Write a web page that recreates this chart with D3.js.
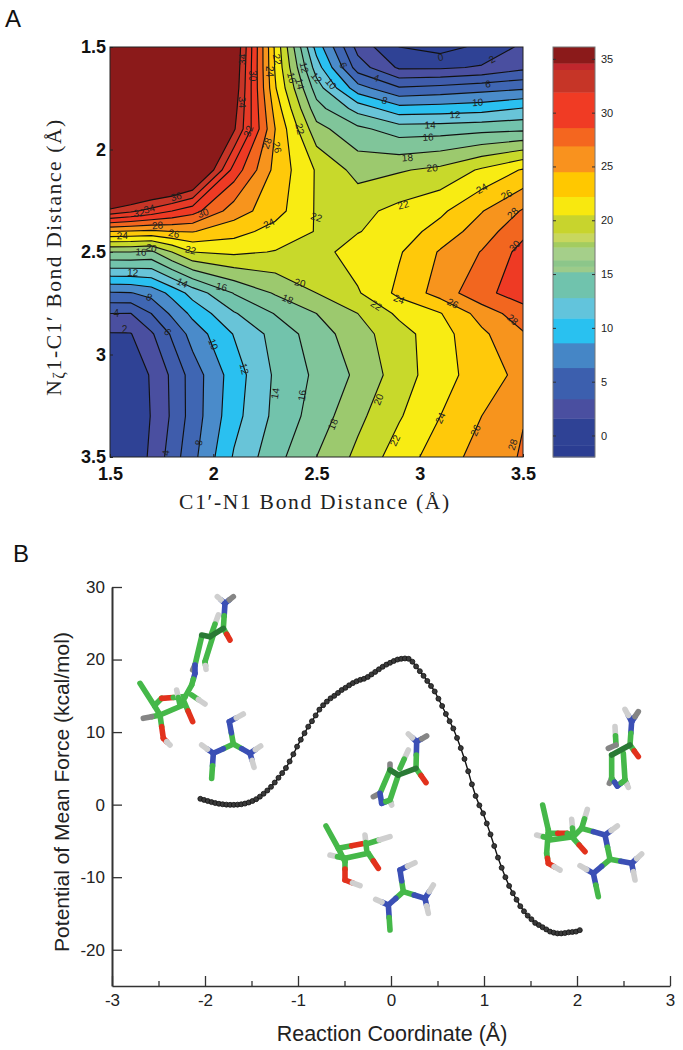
<!DOCTYPE html>
<html><head><meta charset="utf-8">
<script src="https://cdn.jsdelivr.net/npm/d3@7"></script>
<style>html,body{margin:0;padding:0;background:#fff}svg{display:block}</style>
</head><body>
<svg id="c" width="683" height="1050"></svg>
<script>
// ---------- Panel A data ----------
const bondN1 = [1.5,1.6,1.7,1.8,1.9,2.1,2.3,2.5,2.7,2.9,3.1,3.3,3.5];
const bondNz = [1.5,1.6,1.7,1.8,1.9,2.1,2.3,2.4,2.5,2.7,2.8,2.9,3.1,3.3,3.5];
const pmfRow150 = [60,60,60,60,60,38.4,23.6,11.2,3.3,0,-0.8,0.5,2.4];
const pmfRow160 = [60,60,60,60,60,38,23.8,13,5,1.7,1.7,2.2,3.5];
const pmfRow170 = [60,60,60,60,60,37.6,24.2,15,8.8,6.2,6.6,7.2,7.7];
const pmfRow180 = [60,60,60,60,60,36.9,25.2,16.8,13.2,10.7,10.9,11.2,12.1];
const pmfRow190 = [60,60,60,60,60,36.3,26,18.7,16.5,15,15.1,15.4,15.6];
const pmfRow210 = [47.7,45,43.3,43,41,31.2,25.4,21.8,19.3,19.8,20.5,22.3,24.2];
const pmfRow230 = [35.4,34.4,33.3,32,30.8,27,24.8,21.8,21.4,22.6,23.6,25.9,28.2];
const pmfRow240 = [26,25.8,25.6,26,26.1,24.8,23.2,21.9,21.9,23,24.8,27,29.5];
const pmfRow250 = [18,18,17.6,20,22,22.4,21.9,21.2,23,23.8,26.2,28.1,30.7];
const pmfRow270 = [7.8,7.9,8.7,10.6,12.8,16.1,18.2,20,21.8,24.5,26.8,29.5,30.9];
const pmfRow280 = [4,3.95,6,8.4,10.5,13.8,16.1,18,20,22.4,23.9,26.8,29.2];
const pmfRow290 = [1.85,1.9,3.7,6.3,8.8,12.1,14.7,17,19.2,21.2,23.2,25.6,27.8];
const pmfRow310 = [1,1.3,2.1,4.4,6.9,11,14.3,16.4,18.4,21,23.2,25,26.6];
const pmfRow330 = [0.8,1.1,2.05,4.3,6.9,11.3,14.5,16.9,19.5,21.8,24,26,27.9];
const pmfRow350 = [0.6,1.2,2.2,5,7.4,12.2,15.3,18,20.5,23,25,26.8,28.2];
const levels = [0,2,4,6,8,10,12,14,16,18,20,22,24,26,28,30,32,34,36];
const levelColors = ["#2c3f93","#2f4295","#4a4fa0","#3f5cab","#3f66b3","#4a8bca","#2ac0f0","#68c4d8","#72c3ac","#80c59a","#9cc96e","#c8d92b","#f8ec13","#ffc90a","#f7941d","#f2661f","#ee3a24","#e63a26","#c63527","#8b1a1a"];
const labelX = [2.14,2.19,2.14,2.17,2.26,2.31,2.42,2.27,2.31,2.38,2.42,2.44,1.82,1.64,1.69,1.95,1.73,1.81,2.27,1.56,1.70,1.65,1.89,2.50,2.50,2.57,2.63,2.79,3.10,3.35,3.33,2.83,3.28,3.17,3.05,3.04,2.94,3.06,2.92,3.30,3.42,3.45,3.46,1.61,1.85,2.04,2.36,2.42,1.69,1.53,1.78,1.57,2.00,2.15,2.30,2.43,1.93,1.77,2.58,2.80,2.88,2.79,2.90,3.16,3.45,3.10,3.27,3.45];
const labelY = [1.56,1.64,1.77,1.91,1.97,1.99,1.90,1.62,1.56,1.65,1.68,1.60,2.23,2.31,2.29,2.31,2.37,2.41,2.36,2.42,2.48,2.50,2.49,2.33,1.65,1.68,1.59,1.65,1.55,1.56,1.68,1.76,1.77,1.83,1.88,1.94,2.04,2.09,2.27,2.19,2.22,2.31,2.47,2.60,2.65,2.67,2.73,2.65,2.72,2.80,2.89,2.88,2.95,3.07,3.19,3.20,3.43,3.48,3.34,3.22,3.42,2.76,2.73,2.75,2.83,3.31,3.37,3.44];
const labelText = ["34","30","34","32","28","26","22","24","22","16","14","12","36","32","34","30","28","26","24","24","20","16","22","22","12","10","6","4","0","2","6","8","10","12","14","16","18","20","22","24","26","28","30","12","14","16","18","20","8","4","6","2","10","12","14","16","8","4","18","20","22","22","24","26","28","24","26","28"];
const axisTicksA = [1.5,2,2.5,3,3.5];
const colorbarTicks = [35,30,25,20,15,10,5,0];
const colorbarEdges = [-2,-0.9,1.6,3.4,6.3,8.6,10.9,12.8,15.2,15.7,16.3,17.5,18,18.8,20.5,22.2,24.5,26.9,28.6,31.9,34,34.6,36.1];
const colorbarColors = ["#2b3d92","#2f4295","#4a4fa0","#3c5fae","#4586c6","#29c1f0","#62c4dc","#70c3ad","#9ccb8a","#8cc68a","#a5cf8a","#a3cc60","#c8d75e","#c8d42d","#f8e80f","#ffc800","#f9921e","#f4661f","#f03b24","#c63527","#c0272d","#8b1a1a"];
// ---------- Panel B data ----------
const reactionCoord = [-2.05,-2.01,-1.97,-1.93,-1.89,-1.85,-1.81,-1.77,-1.73,-1.69,-1.65,-1.61,-1.57,-1.53,-1.49,-1.45,-1.41,-1.37,-1.33,-1.29,-1.25,-1.21,-1.17,-1.13,-1.09,-1.05,-1.01,-0.97,-0.93,-0.89,-0.85,-0.81,-0.77,-0.73,-0.69,-0.65,-0.61,-0.57,-0.53,-0.49,-0.45,-0.41,-0.37,-0.33,-0.29,-0.25,-0.21,-0.17,-0.13,-0.09,-0.05,-0.01,0.03,0.07,0.11,0.15,0.19,0.23,0.27,0.31,0.35,0.39,0.43,0.47,0.51,0.55,0.59,0.63,0.67,0.71,0.75,0.79,0.83,0.87,0.91,0.95,0.99,1.03,1.07,1.11,1.15,1.19,1.23,1.27,1.31,1.35,1.39,1.43,1.47,1.51,1.55,1.59,1.63,1.67,1.71,1.75,1.79,1.83,1.87,1.91,1.95,1.99,2.03];
const meanForce = [0.8,0.65,0.5,0.35,0.22,0.12,0.05,0,-0.03,-0.03,0,0.05,0.15,0.3,0.5,0.75,1.1,1.5,1.95,2.45,3.05,3.7,4.35,5.05,5.95,6.95,8.0,8.95,9.85,10.75,11.5,12.3,13.1,13.7,14.2,14.65,15.0,15.4,15.8,16.1,16.45,16.75,17.0,17.2,17.35,17.6,17.95,18.3,18.65,19.0,19.3,19.55,19.8,20.0,20.1,20.15,20.1,19.7,19.05,18.4,17.75,17.05,16.35,15.6,14.6,13.6,12.5,11.5,10.5,9.2,7.8,6.3,4.6,2.8,1.2,-0.1,-1.2,-2.6,-4.1,-5.7,-7.3,-8.7,-10,-11.2,-12.2,-13.1,-14,-14.7,-15.3,-15.8,-16.3,-16.6,-16.9,-17.2,-17.5,-17.65,-17.75,-17.75,-17.7,-17.6,-17.55,-17.5,-17.3];
const xTicksB = [-3,-2,-1,0,1,2,3];
const xMinorB = [-2.5,-1.5,-0.5,0.5,1.5,2.5];
const yTicksB = [-20,-10,0,10,20,30];
// Stick models: [x1,y1,x2,y2,atoms] in the model's own sketch units; two letters = half and half
const moleculeLeft = [[285,40,262,20,"bw"],[285,40,310,20,"bk"],[285,40,280,115,"bg"],[280,115,300,150,"gr"],[265,75,245,130,"wg"],[215,140,195,225,"g"],[250,135,225,215,"g"],[225,215,228,238,"gw"],[195,225,188,240,"k"],[195,225,195,250,"b"],[280,115,240,140,"d"],[240,140,215,135,"d"],[195,250,185,285,"bg"],[185,285,160,330,"g"],[185,315,225,342,"gw"],[160,330,188,395,"gr"],[75,345,95,325,"g"],[95,325,165,320,"rg"],[30,280,75,350,"g"],[75,350,90,375,"g"],[90,375,40,385,"gk"],[160,345,90,375,"g"],[90,375,100,445,"gr"],[100,445,120,465,"rw"],[140,300,150,345,"wg"],[310,462,298,395,"gb"],[298,395,340,372,"bw"],[310,462,250,490,"gb"],[250,490,215,465,"bw"],[250,490,245,565,"bg"],[310,462,360,490,"gb"],[360,490,392,468,"bw"],[360,490,372,532,"bw"]];
const moleculeMiddle = [[320,65,295,42,"bw"],[320,65,350,48,"bk"],[320,65,318,145,"bg"],[318,145,348,188,"gr"],[295,90,270,145,"wg"],[240,132,240,150,"k"],[240,150,210,220,"g"],[265,165,240,240,"g"],[240,240,245,255,"gw"],[210,220,190,230,"k"],[210,220,215,250,"b"],[215,250,240,240,"bg"],[318,145,265,165,"d"],[240,150,265,165,"d"],[48,318,85,385,"g"],[85,385,105,425,"g"],[85,385,165,370,"gr"],[60,405,105,415,"wg"],[105,415,175,400,"g"],[165,345,170,390,"wg"],[175,370,240,350,"gw"],[175,400,205,445,"gr"],[105,415,105,480,"gr"],[105,480,150,497,"rw"],[280,515,270,450,"gb"],[270,450,315,428,"bw"],[280,515,235,555,"gb"],[235,555,197,538,"bw"],[235,555,240,630,"bg"],[280,515,345,535,"gb"],[345,535,370,495,"bw"],[345,535,355,580,"bw"]];
const moleculeRight = [[305,65,285,28,"bw"],[305,65,325,35,"bk"],[305,65,300,135,"bg"],[300,135,325,170,"gr"],[255,80,258,135,"wg"],[258,135,235,145,"k"],[245,165,245,235,"g"],[280,160,285,240,"g"],[285,240,295,262,"gw"],[245,235,238,250,"k"],[245,235,262,258,"gb"],[262,258,285,240,"bg"],[300,135,245,165,"d"],[38,315,55,390,"g"],[55,390,50,460,"g"],[20,405,60,415,"wg"],[55,400,112,400,"gr"],[112,400,130,410,"g"],[60,420,130,410,"g"],[125,358,130,410,"wg"],[172,328,155,385,"wg"],[130,410,155,385,"g"],[155,385,225,405,"gb"],[130,415,165,455,"gr"],[50,460,55,490,"gr"],[55,490,90,510,"rw"],[225,405,262,378,"bw"],[225,405,240,478,"bg"],[240,478,190,520,"gb"],[190,520,150,497,"bw"],[190,520,205,590,"bg"],[240,478,305,490,"gb"],[305,490,335,462,"bw"],[305,490,315,540,"bw"]];
const atomColors = {g:"#45b848",d:"#2a7a35",b:"#3a4fb5",r:"#e2301f",w:"#cfcfcf",k:"#858585"};

const svg = d3.select("#c");
const sans = "'Liberation Sans',Arial,sans-serif";
const serif = "'Liberation Serif','DejaVu Serif',serif";

// ---------- Panel A ----------
const xA = d3.scaleLinear().domain([1.5,3.5]).range([110,523]);
const yA = d3.scaleLinear().domain([1.5,3.5]).range([47,457]);
const grid = [pmfRow150,pmfRow160,pmfRow170,pmfRow180,pmfRow190,pmfRow210,pmfRow230,pmfRow240,pmfRow250,pmfRow270,pmfRow280,pmfRow290,pmfRow310,pmfRow330,pmfRow350];
const nx = bondN1.length, ny = bondNz.length;
const flat = grid.flat();
const defs = svg.append("defs");
defs.append("clipPath").attr("id","mapClip").append("rect")
  .attr("x",xA(1.5)).attr("y",yA(1.5)).attr("width",xA(3.5)-xA(1.5)).attr("height",yA(3.5)-yA(1.5));
defs.append("filter").attr("id","soft").append("feGaussianBlur").attr("stdDeviation",0.6);
const cScaleX = d3.scaleLinear().domain(bondN1.map((d,i)=>i+0.5)).range(bondN1.map(xA));
const cScaleY = d3.scaleLinear().domain(bondNz.map((d,i)=>i+0.5)).range(bondNz.map(yA));
const geoPath = d3.geoPath(d3.geoTransform({point(x,y){this.stream.point(cScaleX(x),cScaleY(y));}}));
const contours = d3.contours().size([nx,ny]).thresholds(levels)(flat);
const map = svg.append("g").attr("clip-path","url(#mapClip)");
map.append("rect").attr("x",xA(1.5)).attr("y",yA(1.5)).attr("width",xA(3.5)-xA(1.5)).attr("height",yA(3.5)-yA(1.5)).attr("fill",levelColors[0]);
map.selectAll("path.f").data(contours).join("path").attr("class","f")
  .attr("d",geoPath).attr("fill",(d,i)=>levelColors[i+1]).attr("stroke",(d,i)=>levelColors[i+1]).attr("stroke-width",0.3);
map.selectAll("path.l").data(contours).join("path").attr("class","l")
  .attr("d",geoPath).attr("fill","none").attr("stroke","#111").attr("stroke-width",1.15).attr("stroke-linejoin","round");
// contour labels, turned along the local contour direction
function angleAt(xv,yv){
  const i=Math.min(nx-2,d3.bisectRight(bondN1,xv)-1), j=Math.min(ny-2,d3.bisectRight(bondNz,yv)-1);
  const gx=(grid[j][i+1]-grid[j][i]+grid[j+1][i+1]-grid[j+1][i])/(xA(bondN1[i+1])-xA(bondN1[i]));
  const gy=(grid[j+1][i]-grid[j][i]+grid[j+1][i+1]-grid[j][i+1])/(yA(bondNz[j+1])-yA(bondNz[j]));
  let a=Math.atan2(-gx,gy)*180/Math.PI;
  if(a>90)a-=180; if(a<-90)a+=180;
  return a;
}
map.selectAll("text.c").data(labelText).join("text").attr("class","c")
  .attr("transform",(d,i)=>`translate(${xA(labelX[i])},${yA(labelY[i])}) rotate(${angleAt(labelX[i],labelY[i])})`)
  .attr("text-anchor","middle").attr("dy","0.35em").attr("font-family",sans).attr("font-size",10)
  .attr("fill","#222").text(d=>d);
svg.append("rect").attr("x",xA(1.5)).attr("y",yA(1.5)).attr("width",xA(3.5)-xA(1.5)).attr("height",yA(3.5)-yA(1.5))
  .attr("fill","none").attr("stroke","#222").attr("stroke-width",1);

const axAx = svg.append("g").attr("transform",`translate(0,${yA(3.5)})`)
  .call(d3.axisBottom(xA).tickValues(axisTicksA).tickFormat(d3.format("~g")).tickSize(-3).tickPadding(10));
const axAy = svg.append("g").attr("transform",`translate(${xA(1.5)},0)`)
  .call(d3.axisLeft(yA).tickValues(axisTicksA).tickFormat(d3.format("~g")).tickSize(-3).tickPadding(4));
[axAx,axAy].forEach(g=>{
  g.select(".domain").remove();
  g.selectAll("line").attr("stroke","#222");
  g.selectAll("text").attr("font-family",sans).attr("font-weight","bold").attr("font-size",18).attr("fill","#111");
});
svg.append("text").attr("x",315).attr("y",509).attr("text-anchor","middle").attr("font-family",serif)
  .attr("font-size",21.5).attr("letter-spacing",1.7).attr("fill","#222").text("C1′-N1 Bond Distance (Å)");
const yl = svg.append("text").attr("transform","translate(61,257) rotate(-90)").attr("text-anchor","middle")
  .attr("font-family",serif).attr("font-size",21.5).attr("letter-spacing",1.6).attr("fill","#222");
yl.append("tspan").text("N");
yl.append("tspan").attr("font-size",16).attr("dy",3).text("ζ");
yl.append("tspan").attr("dy",-3).text("1-C1′ Bond Distance (Å)");

// colorbar
const cb = d3.scaleLinear().domain([-2,36.1]).range([457,47]);
svg.selectAll("rect.cb").data(colorbarColors).join("rect").attr("class","cb")
  .attr("x",553).attr("width",42)
  .attr("y",(d,i)=>cb(colorbarEdges[i+1])).attr("height",(d,i)=>cb(colorbarEdges[i])-cb(colorbarEdges[i+1])+0.4)
  .attr("fill",d=>d);
svg.append("rect").attr("x",553).attr("y",47).attr("width",42).attr("height",410).attr("fill","none").attr("stroke","#777").attr("stroke-width",1);
const cbAxis = svg.append("g").attr("transform","translate(595,0)")
  .call(d3.axisRight(cb).tickValues(colorbarTicks).tickSize(-3).tickPadding(6));
cbAxis.select(".domain").remove();
cbAxis.selectAll("line").attr("stroke","#333");
cbAxis.selectAll("text").attr("font-family",sans).attr("font-size",11).attr("fill","#222");
svg.append("g").attr("transform","translate(553,0)")
  .call(d3.axisLeft(cb).tickValues(colorbarTicks).tickSize(-3).tickFormat(""))
  .call(g=>{g.select(".domain").remove();g.selectAll("line").attr("stroke","#333");});

// panel letters
svg.append("text").attr("x",5).attr("y",27).attr("font-family",sans).attr("font-size",24).attr("fill","#111").text("A");
svg.append("text").attr("x",13).attr("y",562).attr("font-family",sans).attr("font-size",24).attr("fill","#111").text("B");

// ---------- Panel B ----------
const xB = d3.scaleLinear().domain([-3,3]).range([112,670]);
const yB = d3.scaleLinear().domain([-25,30]).range([986,587]);
const bottomAxis = svg.append("g").attr("transform",`translate(0,${yB(-25)})`)
  .call(d3.axisBottom(xB).tickValues(xTicksB).tickFormat(String).tickSize(-10).tickSizeOuter(0).tickPadding(8));
svg.append("g").attr("transform",`translate(0,${yB(-25)})`)
  .call(d3.axisBottom(xB).tickValues(xMinorB).tickFormat("").tickSize(-5))
  .call(g=>{g.select(".domain").remove();g.selectAll("line").attr("stroke","#333").attr("stroke-width",1.3);});
const leftAxis = svg.append("g").attr("transform",`translate(${xB(-3)},0)`)
  .call(d3.axisLeft(yB).tickValues(yTicksB).tickFormat(String).tickSize(-10).tickSizeOuter(0).tickPadding(7));
[bottomAxis,leftAxis].forEach(g=>{
  g.select(".domain").attr("stroke","#333").attr("stroke-width",1.6);
  g.selectAll("line").attr("stroke","#333").attr("stroke-width",1.3);
  g.selectAll("text").attr("font-family",sans).attr("font-size",17).attr("fill","#222");
});
leftAxis.select(".domain").attr("stroke-width",2);
svg.append("text").attr("x",392).attr("y",1041).attr("text-anchor","middle").attr("font-family",sans)
  .attr("font-size",21.5).attr("fill","#222").text("Reaction Coordinate (Å)");
svg.append("text").attr("transform","translate(69,792) rotate(-90)").attr("text-anchor","middle").attr("font-family",sans)
  .attr("font-size",21).attr("fill","#222").text("Potential of Mean Force (kcal/mol)");

const curve = d3.line().x((d,i)=>xB(reactionCoord[i])).y(d=>yB(d));
svg.append("path").attr("d",curve(meanForce)).attr("fill","none").attr("stroke","#111").attr("stroke-width",1.4);
svg.selectAll("circle.p").data(meanForce).join("circle").attr("class","p")
  .attr("cx",(d,i)=>xB(reactionCoord[i])).attr("cy",d=>yB(d)).attr("r",2.5)
  .attr("fill","#3a3a3a").attr("stroke","#111").attr("stroke-width",0.8);

// molecules
function drawMolecule(bonds,ox,oy){
  const mx=d3.scaleLinear().domain([0,3]).range([ox,ox+1]);
  const my=d3.scaleLinear().domain([0,3]).range([oy,oy+1]);
  const segs=bonds.flatMap(d=>{
    if(d[4].length===1) return [[d[0],d[1],d[2],d[3],d[4]]];
    const mxv=(d[0]+d[2])/2, myv=(d[1]+d[3])/2;
    return [[d[0],d[1],mxv,myv,d[4][0]],[mxv,myv,d[2],d[3],d[4][1]]];
  });
  svg.append("g").attr("filter","url(#soft)").selectAll("line").data(segs).join("line")
    .attr("x1",d=>mx(d[0])).attr("y1",d=>my(d[1])).attr("x2",d=>mx(d[2])).attr("y2",d=>my(d[3]))
    .attr("stroke",d=>atomColors[d[4]]).attr("stroke-width",5.6).attr("stroke-linecap","round");
}
drawMolecule(moleculeLeft,130,590);
drawMolecule(moleculeMiddle,310,720);
drawMolecule(moleculeRight,530,700);
</script>
</body></html>
